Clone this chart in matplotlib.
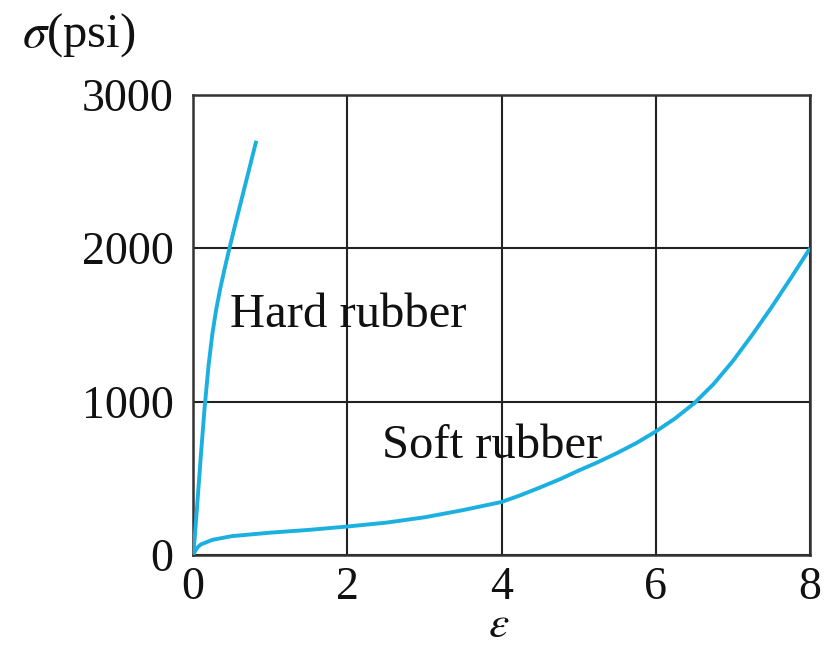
import matplotlib
matplotlib.use("Agg")
import matplotlib.pyplot as plt

# Data
hard_x = [0, 0.02, 0.05, 0.1, 0.15, 0.2, 0.25, 0.3, 0.35, 0.4, 0.46,
          0.54, 0.62, 0.7, 0.76, 0.82]
hard_y = [0, 100, 300, 640, 960, 1230, 1440, 1600, 1730, 1845, 1975,
          2140, 2300, 2460, 2580, 2700]

soft_x = [0, 0.03, 0.06, 0.1, 0.25, 0.5, 1, 1.5, 2, 2.5, 3, 3.5, 4, 4.25, 4.5, 4.75,
          5, 5.25, 5.5, 5.75, 6, 6.25, 6.5, 6.75, 7, 7.25, 7.5, 7.75, 8]
soft_y = [0, 28, 50, 68, 98, 122, 145, 163, 185, 210, 245, 292, 345, 390, 440, 492,
          550, 605, 665, 730, 805, 890, 990, 1115, 1265, 1435, 1615, 1805, 2000]

x_ticks = [0, 2, 4, 6, 8]
y_ticks = [0, 1000, 2000, 3000]

plt.rcParams['font.family'] = ['Liberation Serif', 'DejaVu Serif']
plt.rcParams['mathtext.fontset'] = 'stix'

fig = plt.figure(figsize=(8.25, 6.49), dpi=100)
ax = fig.add_axes([0.234, 0.145, 0.748, 0.709])

curve_color = '#1BB0E0'
ax.plot(hard_x, hard_y, color=curve_color, lw=2.8, solid_capstyle='butt',
        solid_joinstyle='round', zorder=3)
ax.plot(soft_x, soft_y, color=curve_color, lw=2.8, solid_capstyle='butt',
        solid_joinstyle='round', zorder=3)

ax.set_xlim(0, 8)
ax.set_ylim(0, 3000)
ax.set_xticks(x_ticks)
ax.set_yticks(y_ticks)
ax.set_xticklabels([str(v) for v in x_ticks])
ax.set_yticklabels([str(v) for v in y_ticks])
ax.tick_params(length=0, labelsize=33, colors='#111111')
ax.tick_params(axis='x', pad=8)
ax.tick_params(axis='y', pad=14)
ax.grid(True, color='#222222', lw=1.5)
for s in ax.spines.values():
    s.set_color('#333333')
    s.set_linewidth(1.8)

ax.text(0.48, 1487, 'Hard rubber', fontsize=35, va='baseline', ha='left', color='#111111')
ax.text(2.45, 633, 'Soft rubber', fontsize=35, va='baseline', ha='left', color='#111111')

fig.text(0.027, 0.9276, r'$\sigma$(psi)', fontsize=35, va='baseline', ha='left', color='#111111')
fig.text(0.605, 0.036, r'$\varepsilon$', fontsize=33, va='center', ha='center', color='#111111')

fig.savefig('out.png', dpi=100)
